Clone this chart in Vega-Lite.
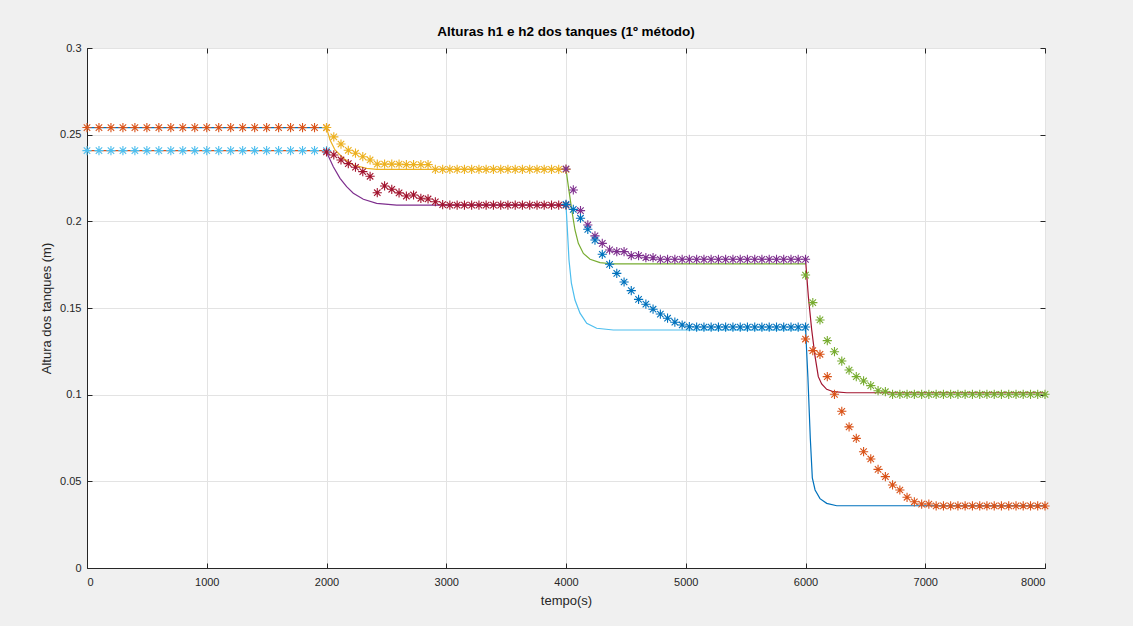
{
"$schema":"https://vega.github.io/schema/vega-lite/v6.json",
"width":958,"height":520,
"autosize":{"type":"none"},
"padding":{"left":87,"top":48,"right":88,"bottom":58},
"background":"#f0f0f0",
"title":{"text":"Alturas h1 e h2 dos tanques (1º método)","font":"Liberation Sans","fontSize":13.5,"fontWeight":"bold","color":"#000000","offset":4,"anchor":"middle"},
"config":{
 "view":{"stroke":"#262626","strokeWidth":1,"fill":"#ffffff"},
 "axis":{"domainColor":"#262626","tickColor":"#262626","labelColor":"#262626","labelFont":"Liberation Sans","labelFontSize":11,"titleFont":"Liberation Sans","titleFontSize":13,"titleFontWeight":"normal","titleColor":"#262626","gridColor":"#e3e3e3","tickSize":-5}
},
"data":{"values":[
{"s":"L1a","t":0,"h":0.2541},{"s":"L1a","t":2000,"h":0.2541},
{"s":"L1b","t":0,"h":0.2408},{"s":"L1b","t":2000,"h":0.2408},
{"s":"L2a","t":2000,"h":0.2541},{"s":"L2a","t":2029,"h":0.2470},{"s":"L2a","t":2071,"h":0.2412},{"s":"L2a","t":2141,"h":0.2364},{"s":"L2a","t":2224,"h":0.2325},{"s":"L2a","t":2336,"h":0.2306},{"s":"L2a","t":2419,"h":0.2300},{"s":"L2a","t":4000,"h":0.2300},
{"s":"L2b","t":2000,"h":0.2400},{"s":"L2b","t":2057,"h":0.2315},{"s":"L2b","t":2113,"h":0.2248},{"s":"L2b","t":2168,"h":0.2200},{"s":"L2b","t":2224,"h":0.2162},{"s":"L2b","t":2308,"h":0.2127},{"s":"L2b","t":2419,"h":0.2104},{"s":"L2b","t":2586,"h":0.2094},{"s":"L2b","t":4000,"h":0.2094},
{"s":"L3a","t":4000,"h":0.2300},{"s":"L3a","t":4020,"h":0.2200},{"s":"L3a","t":4048,"h":0.2066},{"s":"L3a","t":4075,"h":0.1950},{"s":"L3a","t":4103,"h":0.1873},{"s":"L3a","t":4145,"h":0.1815},{"s":"L3a","t":4201,"h":0.1781},{"s":"L3a","t":4284,"h":0.1762},{"s":"L3a","t":4395,"h":0.1754},{"s":"L3a","t":6000,"h":0.1754},
{"s":"L3b","t":4000,"h":0.2094},{"s":"L3b","t":4010,"h":0.1970},{"s":"L3b","t":4025,"h":0.1777},{"s":"L3b","t":4045,"h":0.1643},{"s":"L3b","t":4075,"h":0.1546},{"s":"L3b","t":4117,"h":0.1470},{"s":"L3b","t":4173,"h":0.1412},{"s":"L3b","t":4256,"h":0.1383},{"s":"L3b","t":4395,"h":0.1373},{"s":"L3b","t":6000,"h":0.1373},
{"s":"L4a","t":6000,"h":0.1781},{"s":"L4a","t":6024,"h":0.1565},{"s":"L4a","t":6052,"h":0.1373},{"s":"L4a","t":6080,"h":0.1219},{"s":"L4a","t":6107,"h":0.1104},{"s":"L4a","t":6135,"h":0.1062},{"s":"L4a","t":6177,"h":0.1031},{"s":"L4a","t":6233,"h":0.1017},{"s":"L4a","t":6344,"h":0.1011},{"s":"L4a","t":8000,"h":0.1011},
{"s":"L4b","t":6000,"h":0.1389},{"s":"L4b","t":6020,"h":0.1100},{"s":"L4b","t":6040,"h":0.0750},{"s":"L4b","t":6057,"h":0.0520},{"s":"L4b","t":6080,"h":0.0450},{"s":"L4b","t":6121,"h":0.0400},{"s":"L4b","t":6177,"h":0.0373},{"s":"L4b","t":6261,"h":0.0359},{"s":"L4b","t":8000,"h":0.0359},
{"s":"P1a","t":0,"h":0.2541},{"s":"P1a","t":100,"h":0.2541},{"s":"P1a","t":200,"h":0.2541},{"s":"P1a","t":300,"h":0.2541},{"s":"P1a","t":400,"h":0.2541},{"s":"P1a","t":500,"h":0.2541},{"s":"P1a","t":600,"h":0.2541},{"s":"P1a","t":700,"h":0.2541},{"s":"P1a","t":800,"h":0.2541},{"s":"P1a","t":900,"h":0.2541},{"s":"P1a","t":1000,"h":0.2541},{"s":"P1a","t":1100,"h":0.2541},{"s":"P1a","t":1200,"h":0.2541},{"s":"P1a","t":1300,"h":0.2541},{"s":"P1a","t":1400,"h":0.2541},{"s":"P1a","t":1500,"h":0.2541},{"s":"P1a","t":1600,"h":0.2541},{"s":"P1a","t":1700,"h":0.2541},{"s":"P1a","t":1800,"h":0.2541},{"s":"P1a","t":1900,"h":0.2541},{"s":"P1a","t":2000,"h":0.2541},
{"s":"P1b","t":0,"h":0.2408},{"s":"P1b","t":100,"h":0.2408},{"s":"P1b","t":200,"h":0.2408},{"s":"P1b","t":300,"h":0.2408},{"s":"P1b","t":400,"h":0.2408},{"s":"P1b","t":500,"h":0.2408},{"s":"P1b","t":600,"h":0.2408},{"s":"P1b","t":700,"h":0.2408},{"s":"P1b","t":800,"h":0.2408},{"s":"P1b","t":900,"h":0.2408},{"s":"P1b","t":1000,"h":0.2408},{"s":"P1b","t":1100,"h":0.2408},{"s":"P1b","t":1200,"h":0.2408},{"s":"P1b","t":1300,"h":0.2408},{"s":"P1b","t":1400,"h":0.2408},{"s":"P1b","t":1500,"h":0.2408},{"s":"P1b","t":1600,"h":0.2408},{"s":"P1b","t":1700,"h":0.2408},{"s":"P1b","t":1800,"h":0.2408},{"s":"P1b","t":1900,"h":0.2408},{"s":"P1b","t":2000,"h":0.2408},
{"s":"P2a","t":2000,"h":0.2541},{"s":"P2a","t":2061,"h":0.2487},{"s":"P2a","t":2121,"h":0.2446},{"s":"P2a","t":2182,"h":0.2410},{"s":"P2a","t":2242,"h":0.2393},{"s":"P2a","t":2303,"h":0.2373},{"s":"P2a","t":2364,"h":0.2354},{"s":"P2a","t":2424,"h":0.2330},{"s":"P2a","t":2485,"h":0.2330},{"s":"P2a","t":2545,"h":0.2330},{"s":"P2a","t":2606,"h":0.2330},{"s":"P2a","t":2667,"h":0.2327},{"s":"P2a","t":2727,"h":0.2327},{"s":"P2a","t":2788,"h":0.2327},{"s":"P2a","t":2848,"h":0.2327},{"s":"P2a","t":2909,"h":0.2300},{"s":"P2a","t":2970,"h":0.2300},{"s":"P2a","t":3030,"h":0.2300},{"s":"P2a","t":3091,"h":0.2300},{"s":"P2a","t":3152,"h":0.2300},{"s":"P2a","t":3212,"h":0.2300},{"s":"P2a","t":3273,"h":0.2300},{"s":"P2a","t":3333,"h":0.2300},{"s":"P2a","t":3394,"h":0.2300},{"s":"P2a","t":3455,"h":0.2300},{"s":"P2a","t":3515,"h":0.2300},{"s":"P2a","t":3576,"h":0.2300},{"s":"P2a","t":3636,"h":0.2300},{"s":"P2a","t":3697,"h":0.2300},{"s":"P2a","t":3758,"h":0.2300},{"s":"P2a","t":3818,"h":0.2300},{"s":"P2a","t":3879,"h":0.2300},{"s":"P2a","t":3939,"h":0.2300},{"s":"P2a","t":4000,"h":0.2300},
{"s":"P2b","t":2000,"h":0.2400},{"s":"P2b","t":2061,"h":0.2383},{"s":"P2b","t":2121,"h":0.2354},{"s":"P2b","t":2182,"h":0.2333},{"s":"P2b","t":2242,"h":0.2312},{"s":"P2b","t":2303,"h":0.2287},{"s":"P2b","t":2364,"h":0.2260},{"s":"P2b","t":2424,"h":0.2165},{"s":"P2b","t":2485,"h":0.2204},{"s":"P2b","t":2545,"h":0.2185},{"s":"P2b","t":2606,"h":0.2164},{"s":"P2b","t":2667,"h":0.2146},{"s":"P2b","t":2727,"h":0.2152},{"s":"P2b","t":2788,"h":0.2133},{"s":"P2b","t":2848,"h":0.2129},{"s":"P2b","t":2909,"h":0.2113},{"s":"P2b","t":2970,"h":0.2096},{"s":"P2b","t":3030,"h":0.2094},{"s":"P2b","t":3091,"h":0.2094},{"s":"P2b","t":3152,"h":0.2094},{"s":"P2b","t":3212,"h":0.2094},{"s":"P2b","t":3273,"h":0.2094},{"s":"P2b","t":3333,"h":0.2094},{"s":"P2b","t":3394,"h":0.2094},{"s":"P2b","t":3455,"h":0.2094},{"s":"P2b","t":3515,"h":0.2094},{"s":"P2b","t":3576,"h":0.2094},{"s":"P2b","t":3636,"h":0.2094},{"s":"P2b","t":3697,"h":0.2094},{"s":"P2b","t":3758,"h":0.2094},{"s":"P2b","t":3818,"h":0.2094},{"s":"P2b","t":3879,"h":0.2094},{"s":"P2b","t":3939,"h":0.2094},{"s":"P2b","t":4000,"h":0.2094},
{"s":"P3a","t":4000,"h":0.2302},{"s":"P3a","t":4061,"h":0.2181},{"s":"P3a","t":4121,"h":0.2062},{"s":"P3a","t":4182,"h":0.1979},{"s":"P3a","t":4242,"h":0.1916},{"s":"P3a","t":4303,"h":0.1873},{"s":"P3a","t":4364,"h":0.1835},{"s":"P3a","t":4424,"h":0.1825},{"s":"P3a","t":4485,"h":0.1825},{"s":"P3a","t":4545,"h":0.1802},{"s":"P3a","t":4606,"h":0.1802},{"s":"P3a","t":4667,"h":0.1790},{"s":"P3a","t":4727,"h":0.1790},{"s":"P3a","t":4788,"h":0.1781},{"s":"P3a","t":4848,"h":0.1781},{"s":"P3a","t":4909,"h":0.1781},{"s":"P3a","t":4970,"h":0.1781},{"s":"P3a","t":5030,"h":0.1781},{"s":"P3a","t":5091,"h":0.1781},{"s":"P3a","t":5152,"h":0.1781},{"s":"P3a","t":5212,"h":0.1781},{"s":"P3a","t":5273,"h":0.1781},{"s":"P3a","t":5333,"h":0.1781},{"s":"P3a","t":5394,"h":0.1781},{"s":"P3a","t":5455,"h":0.1781},{"s":"P3a","t":5515,"h":0.1781},{"s":"P3a","t":5576,"h":0.1781},{"s":"P3a","t":5636,"h":0.1781},{"s":"P3a","t":5697,"h":0.1781},{"s":"P3a","t":5758,"h":0.1781},{"s":"P3a","t":5818,"h":0.1781},{"s":"P3a","t":5879,"h":0.1781},{"s":"P3a","t":5939,"h":0.1781},{"s":"P3a","t":6000,"h":0.1781},
{"s":"P3b","t":4000,"h":0.2098},{"s":"P3b","t":4061,"h":0.2069},{"s":"P3b","t":4121,"h":0.2018},{"s":"P3b","t":4182,"h":0.1954},{"s":"P3b","t":4242,"h":0.1892},{"s":"P3b","t":4303,"h":0.1810},{"s":"P3b","t":4364,"h":0.1752},{"s":"P3b","t":4424,"h":0.1700},{"s":"P3b","t":4485,"h":0.1650},{"s":"P3b","t":4545,"h":0.1600},{"s":"P3b","t":4606,"h":0.1550},{"s":"P3b","t":4667,"h":0.1522},{"s":"P3b","t":4727,"h":0.1493},{"s":"P3b","t":4788,"h":0.1465},{"s":"P3b","t":4848,"h":0.1441},{"s":"P3b","t":4909,"h":0.1418},{"s":"P3b","t":4970,"h":0.1402},{"s":"P3b","t":5030,"h":0.1392},{"s":"P3b","t":5091,"h":0.1390},{"s":"P3b","t":5152,"h":0.1390},{"s":"P3b","t":5212,"h":0.1390},{"s":"P3b","t":5273,"h":0.1390},{"s":"P3b","t":5333,"h":0.1390},{"s":"P3b","t":5394,"h":0.1390},{"s":"P3b","t":5455,"h":0.1390},{"s":"P3b","t":5515,"h":0.1390},{"s":"P3b","t":5576,"h":0.1390},{"s":"P3b","t":5636,"h":0.1390},{"s":"P3b","t":5697,"h":0.1390},{"s":"P3b","t":5758,"h":0.1390},{"s":"P3b","t":5818,"h":0.1390},{"s":"P3b","t":5879,"h":0.1390},{"s":"P3b","t":5939,"h":0.1390},{"s":"P3b","t":6000,"h":0.1390},
{"s":"P4a","t":6000,"h":0.1690},{"s":"P4a","t":6061,"h":0.1531},{"s":"P4a","t":6121,"h":0.1431},{"s":"P4a","t":6182,"h":0.1312},{"s":"P4a","t":6242,"h":0.1248},{"s":"P4a","t":6303,"h":0.1194},{"s":"P4a","t":6364,"h":0.1142},{"s":"P4a","t":6424,"h":0.1104},{"s":"P4a","t":6485,"h":0.1079},{"s":"P4a","t":6545,"h":0.1052},{"s":"P4a","t":6606,"h":0.1023},{"s":"P4a","t":6667,"h":0.1017},{"s":"P4a","t":6727,"h":0.1002},{"s":"P4a","t":6788,"h":0.1002},{"s":"P4a","t":6848,"h":0.1002},{"s":"P4a","t":6909,"h":0.1002},{"s":"P4a","t":6970,"h":0.1002},{"s":"P4a","t":7030,"h":0.1002},{"s":"P4a","t":7091,"h":0.1002},{"s":"P4a","t":7152,"h":0.1002},{"s":"P4a","t":7212,"h":0.1002},{"s":"P4a","t":7273,"h":0.1002},{"s":"P4a","t":7333,"h":0.1002},{"s":"P4a","t":7394,"h":0.1002},{"s":"P4a","t":7455,"h":0.1002},{"s":"P4a","t":7515,"h":0.1002},{"s":"P4a","t":7576,"h":0.1002},{"s":"P4a","t":7636,"h":0.1002},{"s":"P4a","t":7697,"h":0.1002},{"s":"P4a","t":7758,"h":0.1002},{"s":"P4a","t":7818,"h":0.1002},{"s":"P4a","t":7879,"h":0.1002},{"s":"P4a","t":7939,"h":0.1002},{"s":"P4a","t":8000,"h":0.1002},
{"s":"P4b","t":6000,"h":0.1321},{"s":"P4b","t":6061,"h":0.1254},{"s":"P4b","t":6121,"h":0.1233},{"s":"P4b","t":6182,"h":0.1104},{"s":"P4b","t":6242,"h":0.1002},{"s":"P4b","t":6303,"h":0.0904},{"s":"P4b","t":6364,"h":0.0814},{"s":"P4b","t":6424,"h":0.0748},{"s":"P4b","t":6485,"h":0.0671},{"s":"P4b","t":6545,"h":0.0629},{"s":"P4b","t":6606,"h":0.0569},{"s":"P4b","t":6667,"h":0.0527},{"s":"P4b","t":6727,"h":0.0479},{"s":"P4b","t":6788,"h":0.0450},{"s":"P4b","t":6848,"h":0.0408},{"s":"P4b","t":6909,"h":0.0382},{"s":"P4b","t":6970,"h":0.0369},{"s":"P4b","t":7030,"h":0.0369},{"s":"P4b","t":7091,"h":0.0358},{"s":"P4b","t":7152,"h":0.0358},{"s":"P4b","t":7212,"h":0.0358},{"s":"P4b","t":7273,"h":0.0358},{"s":"P4b","t":7333,"h":0.0358},{"s":"P4b","t":7394,"h":0.0358},{"s":"P4b","t":7455,"h":0.0358},{"s":"P4b","t":7515,"h":0.0358},{"s":"P4b","t":7576,"h":0.0358},{"s":"P4b","t":7636,"h":0.0358},{"s":"P4b","t":7697,"h":0.0358},{"s":"P4b","t":7758,"h":0.0358},{"s":"P4b","t":7818,"h":0.0358},{"s":"P4b","t":7879,"h":0.0358},{"s":"P4b","t":7939,"h":0.0358},{"s":"P4b","t":8000,"h":0.0358}
]},
"layer":[
 {"transform":[{"filter":"datum.s[0]=='L'"}],"mark":{"type":"line","strokeWidth":1.2,"clip":true},
  "encoding":{
   "x":{"field":"t","type":"quantitative","scale":{"domain":[0,8000],"nice":false,"zero":false},"axis":{"values":[0,1000,2000,3000,4000,5000,6000,7000,8000],"title":"tempo(s)","labelPadding":13,"titlePadding":7,"format":"d"}},
   "y":{"field":"h","type":"quantitative","scale":{"domain":[0,0.3],"nice":false,"zero":false},"axis":{"values":[0,0.05,0.1,0.15,0.2,0.25,0.3],"title":"Altura dos tanques (m)","labelPadding":11,"titlePadding":6,"format":"~g"}},
   "color":{"field":"s","type":"nominal","legend":null,"scale":{"domain":["L1a","L1b","L2a","L2b","L3a","L3b","L4a","L4b","P1a","P1b","P2a","P2b","P3a","P3b","P4a","P4b"],"range":["#0072BD","#D95319","#EDB120","#7E2F8E","#77AC30","#4DBEEE","#A2142F","#0072BD","#D95319","#4DBEEE","#EDB120","#A2142F","#7E2F8E","#0072BD","#77AC30","#D95319"]}}
  }},
 {"transform":[{"filter":"datum.s[0]=='P'"}],"mark":{"type":"point","filled":false,"strokeWidth":1.1,"size":85,"opacity":1,"shape":"M0,-1L0,1M-1,0L1,0M-0.7,-0.7L0.7,0.7M-0.7,0.7L0.7,-0.7"},
  "encoding":{
   "x":{"field":"t","type":"quantitative","axis":null},
   "y":{"field":"h","type":"quantitative","axis":null},
   "color":{"field":"s","type":"nominal","legend":null}
  }},
 {"transform":[{"filter":"datum.s=='L1a'"}],"mark":{"type":"point","opacity":0},
  "encoding":{
   "x":{"field":"t","type":"quantitative","axis":{"orient":"top","values":[0,1000,2000,3000,4000,5000,6000,7000,8000],"labels":false,"title":null,"grid":false,"domain":false}},
   "y":{"field":"h","type":"quantitative","axis":{"orient":"right","values":[0,0.05,0.1,0.15,0.2,0.25,0.3],"labels":false,"title":null,"grid":false,"domain":false}}
  }}
],
"resolve":{"axis":{"x":"independent","y":"independent"}}
}
